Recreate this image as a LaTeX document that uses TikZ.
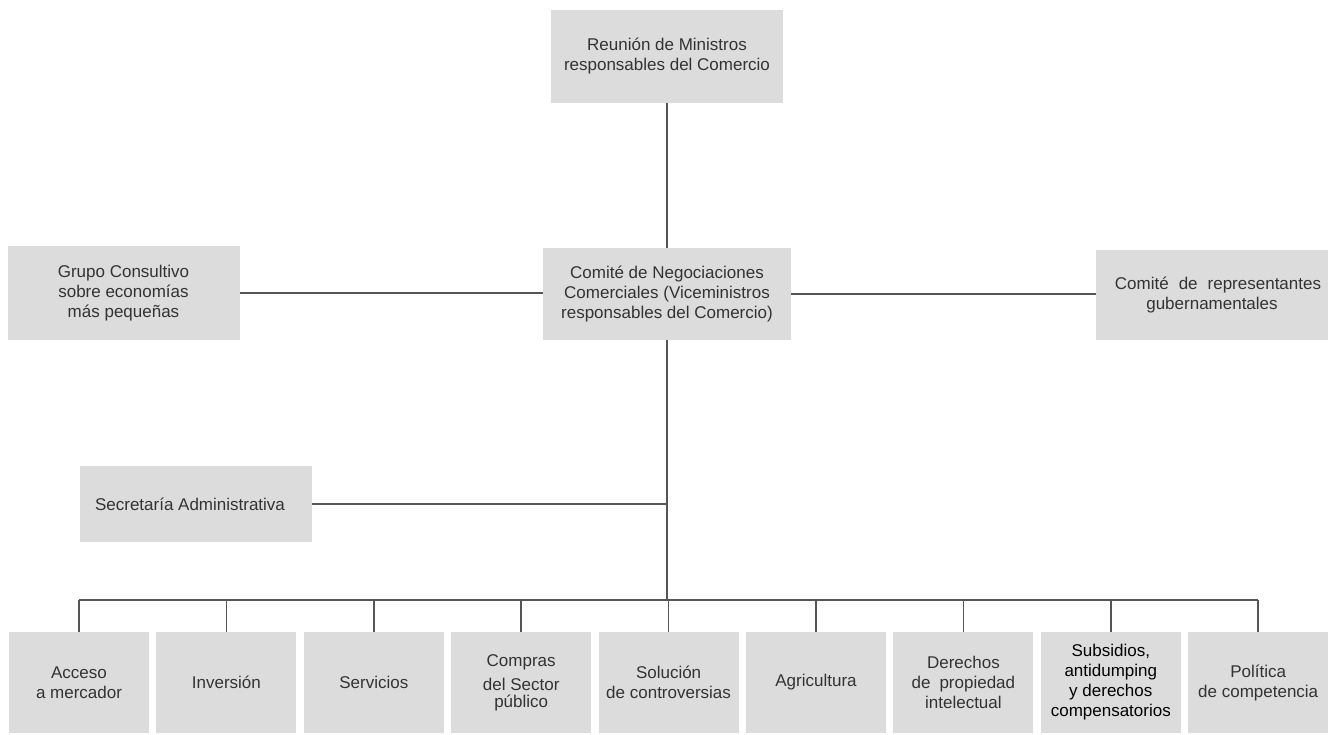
\documentclass[tikz,border=0pt]{standalone}
\usepackage{fontspec}
\setmainfont{Liberation Sans}
\usetikzlibrary{positioning}
\definecolor{boxgray}{HTML}{DCDCDC}
\definecolor{linegray}{HTML}{555555}
\definecolor{textgray}{HTML}{333333}
\tikzset{
  orgbox/.style={fill=boxgray, text=textgray, align=center, inner sep=0pt,
    font=\fontsize{17}{20}\selectfont},
  widebox/.style={orgbox, minimum width=232pt},
  areabox/.style={orgbox, minimum width=140pt, minimum height=101pt},
  link/.style={draw=linegray, line width=1.5pt}
}
\def\boxpitch{147.4}

\begin{document}
\begin{tikzpicture}[x=1pt, y=-1pt]
\useasboundingbox (0,0) rectangle (1332,734);

\node[widebox, minimum height=93pt] (reunion) at (667,56.5)
  {Reunión de Ministros\\responsables del Comercio};
\node[orgbox, minimum width=248pt, minimum height=92pt] (cnc) at (667,294)
  {Comité de Negociaciones\\Comerciales (Viceministros\\responsables del Comercio)};
\node[widebox, minimum height=94pt] (grupo) at (123.5,293)
  {Grupo Consultivo\hspace{12pt}\\sobre economías\hspace{12pt}\\más pequeñas\hspace{4pt}};
\node[widebox, minimum height=90pt] (rep) at (1212,295)
  {\hspace{12pt}Comité\hspace{10pt}de\hspace{10pt}representantes\\gubernamentales};
\node[widebox, minimum height=76pt] (secre) at (196,504)
  {Secretaría Administrativa\hspace{12pt}};

\coordinate (bus) at (667,600);

\foreach \i/\txt in {1/{Acceso\\a mercador}, 2/{Inversión}, 3/{Servicios},
    4/{Compras\\[4pt]del Sector\\[-3pt]público}, 5/{Solución\\de controversias},
    6/{Agricultura}, 7/{Derechos\\de\hspace{9pt}propiedad\\intelectual},
    8/{\color{black}Subsidios,\\\color{black}antidumping\\\color{black}y derechos\\\color{black}compensatorios},
    9/{Política\\de competencia}} {
  \pgfmathsetmacro\cx{79 + \boxpitch*(\i-1)}
  \node[areabox] (area\i) at (\cx,682.5) {\txt};
}

\draw[link] (reunion.south) -- (cnc.north);
\draw[link] (grupo.east) -- (grupo.east -| cnc.west);
\draw[link] (cnc.east) -- (cnc.east -| rep.west);
\draw[link] (cnc.south) -- (bus);
\draw[link] (secre.east) -- (secre.east -| bus);
\draw[link] (area1.north |- bus) -- (area9.north |- bus);
\foreach \i in {1,...,9}
  \draw[link] (area\i.north |- bus) -- (area\i.north);
\end{tikzpicture}
\end{document}
